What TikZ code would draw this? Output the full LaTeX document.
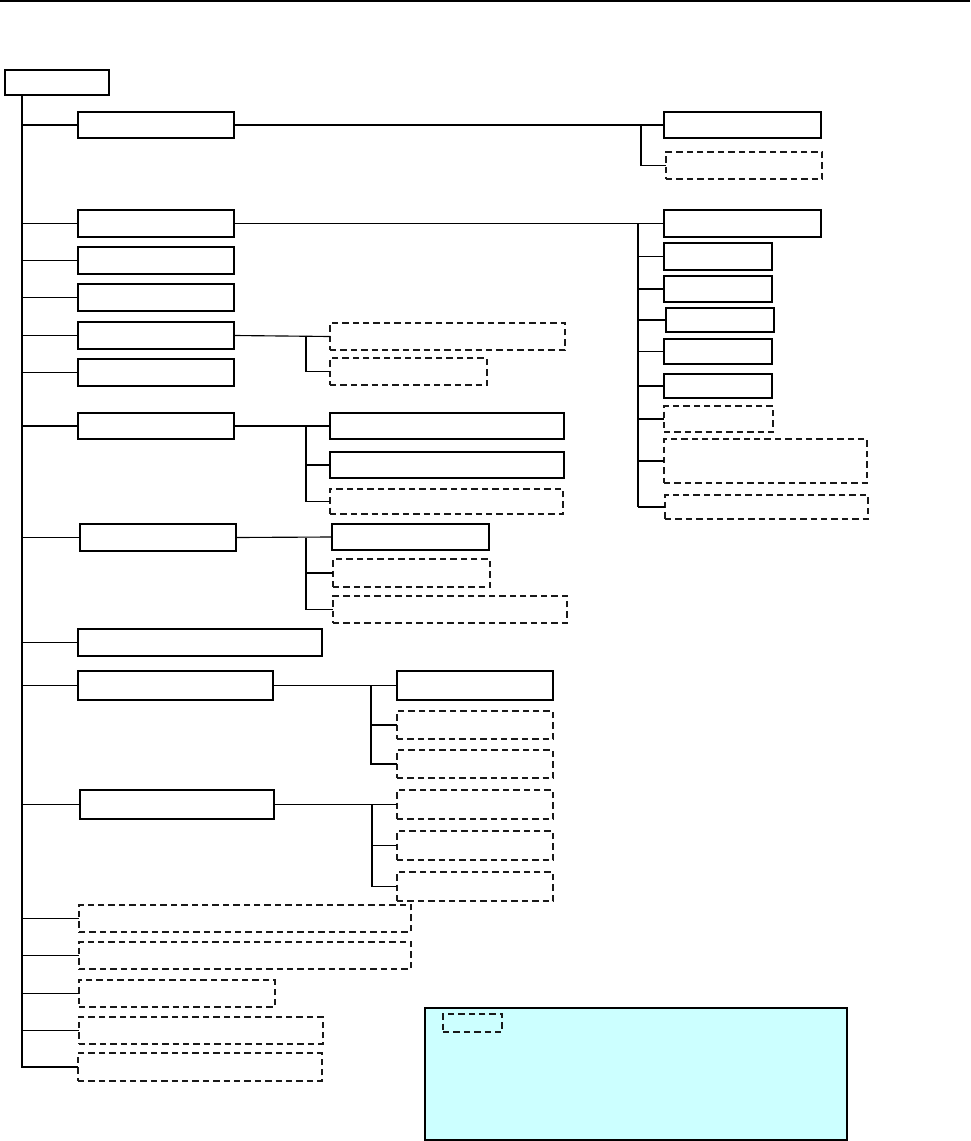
\documentclass[tikz,border=0pt]{standalone}
\usetikzlibrary{calc}
\definecolor{legendbg}{HTML}{CCFFFF}
\newcommand\mybox[6]{%
  \node[#1, minimum width={(#5-#3)*0.75pt}, minimum height={(#6-#4)*0.75pt}] (#2) at ({(#3+#5)/2},{(#4+#6)/2}) {};}
\begin{document}
\begin{tikzpicture}[x=0.75pt,y=-0.75pt,
  sbox/.style={draw=black, line width=1.1pt, inner sep=0pt, outer sep=0pt, rectangle},
  dbox/.style={draw=black!90, line width=1.6pt, dash pattern=on 4.8pt off 3pt, inner sep=0pt, outer sep=0pt, rectangle},
  lbox/.style={draw=black, line width=1pt, fill=legendbg, inner sep=0pt, outer sep=0pt, rectangle},
  conn/.style={draw=black, line width=0.85pt},
  trunk/.style={draw=black, line width=1.6pt}]
\useasboundingbox (0,0) rectangle (970,1141);
\draw[line width=0.8pt] (0,1) coordinate (tl) -- (970,1) coordinate (tr);
% root
\mybox{sbox}{root}{5}{70}{109}{95}
% level 1
\mybox{sbox}{A}{78}{112}{234}{138}
\mybox{sbox}{B}{78}{210}{234}{237}
\mybox{sbox}{C}{78}{247}{234}{274}
\mybox{sbox}{D}{78}{284}{234}{311}
\mybox{sbox}{E}{78}{322}{234}{349}
\mybox{sbox}{F}{78}{359}{234}{386}
\mybox{sbox}{G}{78}{413}{234}{439}
\mybox{sbox}{H}{80}{524}{236}{551}
\mybox{sbox}{I}{78}{629}{322}{656}
\mybox{sbox}{J}{78}{671}{273}{700}
\mybox{sbox}{K}{80}{790}{274}{819}
\mybox{dbox}{L1}{79}{905}{411}{932}
\mybox{dbox}{L2}{79}{942}{411}{969}
\mybox{dbox}{L3}{79}{980}{275}{1007}
\mybox{dbox}{L4}{79}{1017}{323}{1044}
\mybox{dbox}{L5}{78}{1053}{322}{1081}
% A children
\mybox{sbox}{A1}{664}{112}{821}{138}
\mybox{dbox}{A2}{666}{152}{822}{179}
% B children
\mybox{sbox}{B1}{664}{210}{821}{237}
\mybox{sbox}{B2}{664}{243}{772}{270}
\mybox{sbox}{B3}{664}{276}{772}{302}
\mybox{sbox}{B4}{666}{308}{774}{332}
\mybox{sbox}{B5}{664}{339}{772}{364}
\mybox{sbox}{B6}{664}{374}{772}{398}
\mybox{dbox}{B7}{664}{406}{773}{432}
\mybox{dbox}{B8}{664}{439}{867}{483}
\mybox{dbox}{B9}{665}{495}{868}{519}
% E children
\mybox{dbox}{E1}{330}{323}{565}{350}
\mybox{dbox}{E2}{330}{358}{487}{385}
% G children
\mybox{sbox}{G1}{330}{413}{564}{439}
\mybox{sbox}{G2}{330}{452}{564}{478}
\mybox{dbox}{G3}{330}{489}{563}{514}
% H children
\mybox{sbox}{H1}{332}{524}{489}{550}
\mybox{dbox}{H2}{333}{559}{490}{587}
\mybox{dbox}{H3}{333}{596}{567}{623}
% J children
\mybox{sbox}{J1}{397}{671}{553}{700}
\mybox{dbox}{J2}{397}{711}{553}{739}
\mybox{dbox}{J3}{397}{750}{553}{778}
% K children
\mybox{dbox}{K1}{397}{790}{553}{819}
\mybox{dbox}{K2}{397}{831}{553}{860}
\mybox{dbox}{K3}{397}{872}{553}{901}
% legend
\mybox{lbox}{leg}{425}{1008}{847}{1140}
\mybox{dbox}{legd}{443}{1014}{502}{1032}
% trunk
\coordinate (t) at (22,0);
\draw[trunk] (root.south -| t) -- ($(L5.west -| t)+(0,1)$);
\foreach \n in {A,B,C,D,E,F,G,H,I,J,K,L1,L2,L3,L4,L5}{
  \draw[conn] (\n.west -| t) -- (\n.west);
}
% A bracket
\coordinate (ba) at (641,0);
\draw[conn] (A.east) -- (A1.west);
\draw[conn] (A.east -| ba) |- (A2.west);
% B bracket
\coordinate (bb) at (638,0);
\draw[conn] (B.east) -- (B1.west);
\draw[conn] (B.east -| bb) -- (B9.west -| bb);
\foreach \n in {B2,B3,B4,B5,B6,B7,B8,B9}{
  \draw[conn] (\n.west -| bb) -- (\n.west);
}
% E bracket
\coordinate (be) at (306,0);
\draw[conn] (E.east) -- (E1.west);
\draw[conn] (E.east -| be) |- (E2.west);
% G bracket
\draw[conn] (G.east) -- (G1.west);
\draw[conn] (G.east -| be) |- (G3.west);
\draw[conn] (G2.west -| be) -- (G2.west);
% H bracket
\draw[conn] (H.east) -- (H1.west);
\draw[conn] (H.east -| be) |- (H3.west);
\draw[conn] (H2.west -| be) -- (H2.west);
% J bracket
\coordinate (bj) at (371,0);
\draw[conn] (J.east) -- (J1.west);
\draw[conn] (J.east -| bj) |- (J3.west);
\draw[conn] (J2.west -| bj) -- (J2.west);
% K bracket
\coordinate (bk) at (372,0);
\draw[conn] (K.east) -- (K1.west);
\draw[conn] (K.east -| bk) |- (K3.west);
\draw[conn] (K2.west -| bk) -- (K2.west);
\end{tikzpicture}
\end{document}
